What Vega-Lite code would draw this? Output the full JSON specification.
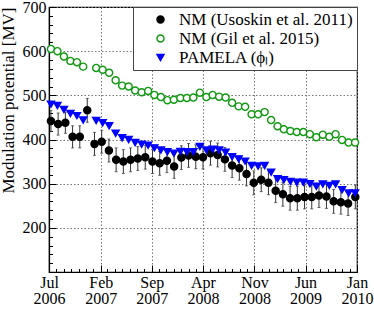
{
  "$schema": "https://vega.github.io/schema/vega-lite/v6.json",
  "width": 308,
  "height": 265,
  "autosize": {"type": "none"},
  "padding": {"left": 49, "top": 7, "right": 17, "bottom": 50},
  "background": "white",
  "config": {
    "view": {"stroke": "black", "strokeWidth": 1.2},
    "font": "Liberation Serif",
    "legend": {"labelFont": "Liberation Serif", "labelFontSize": 17, "labelColor": "black", "labelLimit": 400, "fillColor": "white", "strokeColor": "#444", "padding": 4, "symbolOffset": 15, "labelOffset": 10, "rowPadding": 1, "symbolSize": 50, "symbolStrokeWidth": 1.4, "cornerRadius": 0}
  },
  "datasets": {
    "err": [
      {"date": "2006-07-09", "lo": 418, "hi": 466},
      {"date": "2006-08-08", "lo": 410, "hi": 460},
      {"date": "2006-09-07", "lo": 414, "hi": 462},
      {"date": "2006-10-07", "lo": 381, "hi": 431},
      {"date": "2006-11-06", "lo": 381, "hi": 431},
      {"date": "2006-12-07", "lo": 439, "hi": 493},
      {"date": "2007-01-06", "lo": 364, "hi": 416},
      {"date": "2007-02-05", "lo": 369, "hi": 421},
      {"date": "2007-03-07", "lo": 349, "hi": 401},
      {"date": "2007-04-06", "lo": 327, "hi": 381},
      {"date": "2007-05-06", "lo": 323, "hi": 377},
      {"date": "2007-06-05", "lo": 327, "hi": 381},
      {"date": "2007-07-05", "lo": 330, "hi": 384},
      {"date": "2007-08-05", "lo": 333, "hi": 387},
      {"date": "2007-09-04", "lo": 323, "hi": 377},
      {"date": "2007-10-04", "lo": 319, "hi": 373},
      {"date": "2007-11-03", "lo": 325, "hi": 379},
      {"date": "2007-12-03", "lo": 312, "hi": 366},
      {"date": "2008-01-02", "lo": 332, "hi": 386},
      {"date": "2008-02-01", "lo": 337, "hi": 391},
      {"date": "2008-03-02", "lo": 334, "hi": 388},
      {"date": "2008-04-01", "lo": 333, "hi": 387},
      {"date": "2008-05-02", "lo": 342, "hi": 396},
      {"date": "2008-06-01", "lo": 338, "hi": 392},
      {"date": "2008-07-01", "lo": 328, "hi": 382},
      {"date": "2008-07-31", "lo": 314, "hi": 368},
      {"date": "2008-08-30", "lo": 308, "hi": 362},
      {"date": "2008-09-29", "lo": 295, "hi": 349},
      {"date": "2008-10-29", "lo": 275, "hi": 329},
      {"date": "2008-11-29", "lo": 282, "hi": 336},
      {"date": "2008-12-29", "lo": 275, "hi": 329},
      {"date": "2009-01-28", "lo": 257, "hi": 311},
      {"date": "2009-02-27", "lo": 249, "hi": 303},
      {"date": "2009-03-29", "lo": 240, "hi": 294},
      {"date": "2009-04-28", "lo": 240, "hi": 294},
      {"date": "2009-05-28", "lo": 243, "hi": 297},
      {"date": "2009-06-27", "lo": 243, "hi": 297},
      {"date": "2009-07-27", "lo": 246, "hi": 300},
      {"date": "2009-08-27", "lo": 244, "hi": 298},
      {"date": "2009-09-26", "lo": 233, "hi": 287},
      {"date": "2009-10-26", "lo": 231, "hi": 285},
      {"date": "2009-11-25", "lo": 228, "hi": 282},
      {"date": "2009-12-25", "lo": 243, "hi": 297}
    ],
    "pts": [
      {"s": "NM (Usoskin et al. 2011)", "date": "2006-07-09", "v": 442},
      {"s": "NM (Usoskin et al. 2011)", "date": "2006-08-08", "v": 435},
      {"s": "NM (Usoskin et al. 2011)", "date": "2006-09-07", "v": 438},
      {"s": "NM (Usoskin et al. 2011)", "date": "2006-10-07", "v": 406},
      {"s": "NM (Usoskin et al. 2011)", "date": "2006-11-06", "v": 406},
      {"s": "NM (Usoskin et al. 2011)", "date": "2006-12-07", "v": 466},
      {"s": "NM (Usoskin et al. 2011)", "date": "2007-01-06", "v": 390},
      {"s": "NM (Usoskin et al. 2011)", "date": "2007-02-05", "v": 395},
      {"s": "NM (Usoskin et al. 2011)", "date": "2007-03-07", "v": 375},
      {"s": "NM (Usoskin et al. 2011)", "date": "2007-04-06", "v": 354},
      {"s": "NM (Usoskin et al. 2011)", "date": "2007-05-06", "v": 350},
      {"s": "NM (Usoskin et al. 2011)", "date": "2007-06-05", "v": 354},
      {"s": "NM (Usoskin et al. 2011)", "date": "2007-07-05", "v": 357},
      {"s": "NM (Usoskin et al. 2011)", "date": "2007-08-05", "v": 360},
      {"s": "NM (Usoskin et al. 2011)", "date": "2007-09-04", "v": 350},
      {"s": "NM (Usoskin et al. 2011)", "date": "2007-10-04", "v": 346},
      {"s": "NM (Usoskin et al. 2011)", "date": "2007-11-03", "v": 352},
      {"s": "NM (Usoskin et al. 2011)", "date": "2007-12-03", "v": 339},
      {"s": "NM (Usoskin et al. 2011)", "date": "2008-01-02", "v": 359},
      {"s": "NM (Usoskin et al. 2011)", "date": "2008-02-01", "v": 364},
      {"s": "NM (Usoskin et al. 2011)", "date": "2008-03-02", "v": 361},
      {"s": "NM (Usoskin et al. 2011)", "date": "2008-04-01", "v": 360},
      {"s": "NM (Usoskin et al. 2011)", "date": "2008-05-02", "v": 369},
      {"s": "NM (Usoskin et al. 2011)", "date": "2008-06-01", "v": 365},
      {"s": "NM (Usoskin et al. 2011)", "date": "2008-07-01", "v": 355},
      {"s": "NM (Usoskin et al. 2011)", "date": "2008-07-31", "v": 341},
      {"s": "NM (Usoskin et al. 2011)", "date": "2008-08-30", "v": 335},
      {"s": "NM (Usoskin et al. 2011)", "date": "2008-09-29", "v": 322},
      {"s": "NM (Usoskin et al. 2011)", "date": "2008-10-29", "v": 302},
      {"s": "NM (Usoskin et al. 2011)", "date": "2008-11-29", "v": 309},
      {"s": "NM (Usoskin et al. 2011)", "date": "2008-12-29", "v": 302},
      {"s": "NM (Usoskin et al. 2011)", "date": "2009-01-28", "v": 284},
      {"s": "NM (Usoskin et al. 2011)", "date": "2009-02-27", "v": 276},
      {"s": "NM (Usoskin et al. 2011)", "date": "2009-03-29", "v": 267},
      {"s": "NM (Usoskin et al. 2011)", "date": "2009-04-28", "v": 267},
      {"s": "NM (Usoskin et al. 2011)", "date": "2009-05-28", "v": 270},
      {"s": "NM (Usoskin et al. 2011)", "date": "2009-06-27", "v": 270},
      {"s": "NM (Usoskin et al. 2011)", "date": "2009-07-27", "v": 273},
      {"s": "NM (Usoskin et al. 2011)", "date": "2009-08-27", "v": 271},
      {"s": "NM (Usoskin et al. 2011)", "date": "2009-09-26", "v": 260},
      {"s": "NM (Usoskin et al. 2011)", "date": "2009-10-26", "v": 258},
      {"s": "NM (Usoskin et al. 2011)", "date": "2009-11-25", "v": 255},
      {"s": "NM (Usoskin et al. 2011)", "date": "2009-12-25", "v": 270},
      {"s": "NM (Gil et al. 2015)", "date": "2006-07-09", "v": 605},
      {"s": "NM (Gil et al. 2015)", "date": "2006-08-05", "v": 600},
      {"s": "NM (Gil et al. 2015)", "date": "2006-09-01", "v": 588},
      {"s": "NM (Gil et al. 2015)", "date": "2006-09-28", "v": 578},
      {"s": "NM (Gil et al. 2015)", "date": "2006-10-25", "v": 575},
      {"s": "NM (Gil et al. 2015)", "date": "2006-11-20", "v": 565},
      {"s": "NM (Gil et al. 2015)", "date": "2007-01-13", "v": 562},
      {"s": "NM (Gil et al. 2015)", "date": "2007-02-09", "v": 558},
      {"s": "NM (Gil et al. 2015)", "date": "2007-03-08", "v": 551},
      {"s": "NM (Gil et al. 2015)", "date": "2007-04-04", "v": 534},
      {"s": "NM (Gil et al. 2015)", "date": "2007-05-01", "v": 522},
      {"s": "NM (Gil et al. 2015)", "date": "2007-05-28", "v": 520},
      {"s": "NM (Gil et al. 2015)", "date": "2007-06-24", "v": 511},
      {"s": "NM (Gil et al. 2015)", "date": "2007-07-21", "v": 507},
      {"s": "NM (Gil et al. 2015)", "date": "2007-08-17", "v": 510},
      {"s": "NM (Gil et al. 2015)", "date": "2007-09-12", "v": 501},
      {"s": "NM (Gil et al. 2015)", "date": "2007-10-09", "v": 496},
      {"s": "NM (Gil et al. 2015)", "date": "2007-11-05", "v": 489},
      {"s": "NM (Gil et al. 2015)", "date": "2007-12-02", "v": 490},
      {"s": "NM (Gil et al. 2015)", "date": "2007-12-29", "v": 494},
      {"s": "NM (Gil et al. 2015)", "date": "2008-01-25", "v": 494},
      {"s": "NM (Gil et al. 2015)", "date": "2008-02-21", "v": 495},
      {"s": "NM (Gil et al. 2015)", "date": "2008-03-19", "v": 506},
      {"s": "NM (Gil et al. 2015)", "date": "2008-04-15", "v": 496},
      {"s": "NM (Gil et al. 2015)", "date": "2008-05-11", "v": 501},
      {"s": "NM (Gil et al. 2015)", "date": "2008-06-07", "v": 497},
      {"s": "NM (Gil et al. 2015)", "date": "2008-07-04", "v": 495},
      {"s": "NM (Gil et al. 2015)", "date": "2008-07-31", "v": 483},
      {"s": "NM (Gil et al. 2015)", "date": "2008-08-27", "v": 475},
      {"s": "NM (Gil et al. 2015)", "date": "2008-09-23", "v": 474},
      {"s": "NM (Gil et al. 2015)", "date": "2008-10-20", "v": 457},
      {"s": "NM (Gil et al. 2015)", "date": "2008-11-16", "v": 457},
      {"s": "NM (Gil et al. 2015)", "date": "2008-12-13", "v": 462},
      {"s": "NM (Gil et al. 2015)", "date": "2009-01-09", "v": 444},
      {"s": "NM (Gil et al. 2015)", "date": "2009-02-05", "v": 430},
      {"s": "NM (Gil et al. 2015)", "date": "2009-03-03", "v": 423},
      {"s": "NM (Gil et al. 2015)", "date": "2009-03-30", "v": 419},
      {"s": "NM (Gil et al. 2015)", "date": "2009-04-26", "v": 417},
      {"s": "NM (Gil et al. 2015)", "date": "2009-05-23", "v": 417},
      {"s": "NM (Gil et al. 2015)", "date": "2009-06-19", "v": 412},
      {"s": "NM (Gil et al. 2015)", "date": "2009-07-16", "v": 405},
      {"s": "NM (Gil et al. 2015)", "date": "2009-08-12", "v": 411},
      {"s": "NM (Gil et al. 2015)", "date": "2009-09-08", "v": 406},
      {"s": "NM (Gil et al. 2015)", "date": "2009-10-04", "v": 412},
      {"s": "NM (Gil et al. 2015)", "date": "2009-10-31", "v": 399},
      {"s": "NM (Gil et al. 2015)", "date": "2009-11-27", "v": 393},
      {"s": "NM (Gil et al. 2015)", "date": "2009-12-24", "v": 393},
      {"s": "PAMELA (ϕₗ)", "date": "2006-07-09", "v": 480},
      {"s": "PAMELA (ϕₗ)", "date": "2006-08-05", "v": 477},
      {"s": "PAMELA (ϕₗ)", "date": "2006-09-01", "v": 468},
      {"s": "PAMELA (ϕₗ)", "date": "2006-09-28", "v": 459},
      {"s": "PAMELA (ϕₗ)", "date": "2006-10-25", "v": 454},
      {"s": "PAMELA (ϕₗ)", "date": "2006-11-20", "v": 444},
      {"s": "PAMELA (ϕₗ)", "date": "2007-01-13", "v": 443},
      {"s": "PAMELA (ϕₗ)", "date": "2007-02-09", "v": 438},
      {"s": "PAMELA (ϕₗ)", "date": "2007-03-08", "v": 431},
      {"s": "PAMELA (ϕₗ)", "date": "2007-04-04", "v": 414},
      {"s": "PAMELA (ϕₗ)", "date": "2007-05-01", "v": 404},
      {"s": "PAMELA (ϕₗ)", "date": "2007-05-28", "v": 400},
      {"s": "PAMELA (ϕₗ)", "date": "2007-06-24", "v": 393},
      {"s": "PAMELA (ϕₗ)", "date": "2007-07-21", "v": 389},
      {"s": "PAMELA (ϕₗ)", "date": "2007-08-17", "v": 387},
      {"s": "PAMELA (ϕₗ)", "date": "2007-09-12", "v": 381},
      {"s": "PAMELA (ϕₗ)", "date": "2007-10-09", "v": 376},
      {"s": "PAMELA (ϕₗ)", "date": "2007-11-05", "v": 372},
      {"s": "PAMELA (ϕₗ)", "date": "2007-12-02", "v": 369},
      {"s": "PAMELA (ϕₗ)", "date": "2007-12-29", "v": 373},
      {"s": "PAMELA (ϕₗ)", "date": "2008-01-25", "v": 372},
      {"s": "PAMELA (ϕₗ)", "date": "2008-02-21", "v": 372},
      {"s": "PAMELA (ϕₗ)", "date": "2008-03-19", "v": 384},
      {"s": "PAMELA (ϕₗ)", "date": "2008-04-15", "v": 376},
      {"s": "PAMELA (ϕₗ)", "date": "2008-05-11", "v": 378},
      {"s": "PAMELA (ϕₗ)", "date": "2008-06-07", "v": 376},
      {"s": "PAMELA (ϕₗ)", "date": "2008-07-04", "v": 371},
      {"s": "PAMELA (ϕₗ)", "date": "2008-07-31", "v": 361},
      {"s": "PAMELA (ϕₗ)", "date": "2008-08-27", "v": 356},
      {"s": "PAMELA (ϕₗ)", "date": "2008-09-23", "v": 351},
      {"s": "PAMELA (ϕₗ)", "date": "2008-10-20", "v": 341},
      {"s": "PAMELA (ϕₗ)", "date": "2008-11-16", "v": 340},
      {"s": "PAMELA (ϕₗ)", "date": "2008-12-13", "v": 341},
      {"s": "PAMELA (ϕₗ)", "date": "2009-01-09", "v": 326},
      {"s": "PAMELA (ϕₗ)", "date": "2009-02-05", "v": 311},
      {"s": "PAMELA (ϕₗ)", "date": "2009-03-03", "v": 309},
      {"s": "PAMELA (ϕₗ)", "date": "2009-03-30", "v": 305},
      {"s": "PAMELA (ϕₗ)", "date": "2009-04-26", "v": 303},
      {"s": "PAMELA (ϕₗ)", "date": "2009-05-23", "v": 303},
      {"s": "PAMELA (ϕₗ)", "date": "2009-06-19", "v": 300},
      {"s": "PAMELA (ϕₗ)", "date": "2009-07-16", "v": 294},
      {"s": "PAMELA (ϕₗ)", "date": "2009-08-12", "v": 299},
      {"s": "PAMELA (ϕₗ)", "date": "2009-09-08", "v": 296},
      {"s": "PAMELA (ϕₗ)", "date": "2009-10-04", "v": 299},
      {"s": "PAMELA (ϕₗ)", "date": "2009-10-31", "v": 286},
      {"s": "PAMELA (ϕₗ)", "date": "2009-11-27", "v": 279},
      {"s": "PAMELA (ϕₗ)", "date": "2009-12-24", "v": 279}
    ]
  },
  "encoding": {
    "x": {
      "field": "date", "type": "temporal",
      "scale": {"domain": [{"year": 2006, "month": 7, "date": 1}, {"year": 2010, "month": 1, "date": 1}], "nice": false},
      "axis": {
        "title": null,
        "tickCount": {"interval": "month", "step": 1},
        "labelExpr": "(year(datum.value)*12 + month(datum.value) - 24078) % 7 == 0 ? [timeFormat(datum.value, '%b'), timeFormat(datum.value, '%Y')] : ''",
        "labelFont": "Liberation Serif", "labelFontSize": 16, "labelColor": "black", "labelLineHeight": 16,
        "labelAngle": 0, "labelOverlap": false, "labelBound": false, "labelFlush": false, "labelPadding": 9,
        "tickColor": "black", "tickWidth": 1,
        "tickSize": {"condition": {"test": "(year(datum.value)*12 + month(datum.value) - 24078) % 7 == 0", "value": -7}, "value": -3.5},
        "grid": true, "gridColor": "#777", "gridDash": [1.5, 2], "gridWidth": 1,
        "gridOpacity": {"condition": {"test": "(year(datum.value)*12 + month(datum.value) - 24078) % 7 == 0", "value": 1}, "value": 0},
        "domain": true, "domainColor": "black", "domainWidth": 1.2
      }
    },
    "y": {
      "field": "v", "type": "quantitative",
      "scale": {"domain": [100, 700], "nice": false, "zero": false},
      "axis": {
        "title": "Modulation potential [MV]",
        "titleFont": "Liberation Serif", "titleFontSize": 17, "titleFontWeight": "normal", "titleColor": "black",
        "titleAnchor": "end", "titlePadding": 5,
        "values": [100,120,140,160,180,200,220,240,260,280,300,320,340,360,380,400,420,440,460,480,500,520,540,560,580,600,620,640,660,680,700],
        "labelExpr": "datum.value % 100 == 0 && datum.value > 100 ? datum.label : ''",
        "labelFont": "Liberation Serif", "labelFontSize": 16, "labelColor": "black", "labelPadding": 10,
        "labelOverlap": false, "labelBound": false, "labelFlush": false,
        "tickColor": "black", "tickWidth": 1,
        "tickSize": {"condition": {"test": "datum.value % 100 == 0", "value": -7}, "value": -3.5},
        "grid": true, "gridColor": "#777", "gridDash": [1.5, 2], "gridWidth": 1,
        "gridOpacity": {"condition": {"test": "datum.value % 100 == 0", "value": 1}, "value": 0},
        "domain": true, "domainColor": "black", "domainWidth": 1.2
      }
    }
  },
  "layer": [
    {
      "data": {"name": "err"},
      "mark": {"type": "errorbar", "ticks": {"size": 3, "color": "#333"}, "color": "#333", "thickness": 1},
      "encoding": {
        "y": {"field": "lo", "type": "quantitative"},
        "y2": {"field": "hi"}
      }
    },
    {
      "data": {"name": "pts"},
      "mark": {"type": "point", "filled": true, "size": 50, "strokeWidth": 1.4, "opacity": 1},
      "encoding": {
        "shape": {"field": "s", "type": "nominal", "scale": {"domain": ["NM (Usoskin et al. 2011)", "NM (Gil et al. 2015)", "PAMELA (ϕₗ)"], "range": ["circle", "circle", "triangle-down"]}, "legend": {"title": null, "orient": "top-right", "offset": 0}},
        "fill": {"field": "s", "type": "nominal", "scale": {"domain": ["NM (Usoskin et al. 2011)", "NM (Gil et al. 2015)", "PAMELA (ϕₗ)"], "range": ["black", "white", "#0000ff"]}, "legend": {"title": null, "orient": "top-right", "offset": 0}},
        "stroke": {"field": "s", "type": "nominal", "scale": {"domain": ["NM (Usoskin et al. 2011)", "NM (Gil et al. 2015)", "PAMELA (ϕₗ)"], "range": ["black", "#119911", "#0000ff"]}, "legend": {"title": null, "orient": "top-right", "offset": 0}}
      }
    }
  ]
}
